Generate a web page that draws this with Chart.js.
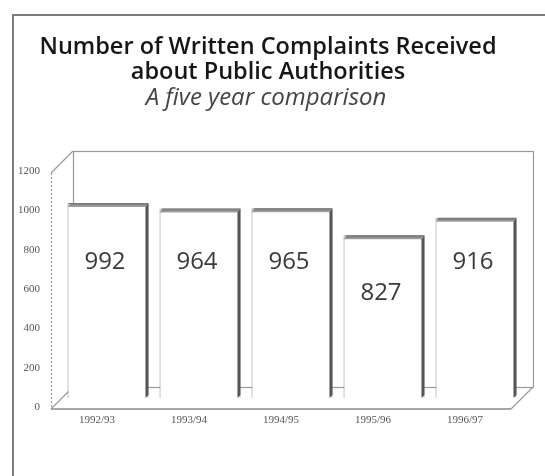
<!DOCTYPE html>
<html>
<head>
<meta charset="utf-8">
<script src="https://cdn.jsdelivr.net/npm/chart.js@4.4.0/dist/chart.umd.min.js"></script>
<style>
  html, body { margin: 0; padding: 0; background: #fff; }
  #wrap { width: 545px; height: 476px; }
</style>
</head>
<body>
<div id="wrap"><canvas id="complaintsChart" width="545" height="476"></canvas></div>
<script>
const years = ['1992/93', '1993/94', '1994/95', '1995/96', '1996/97'];
const complaints = [992, 964, 965, 827, 916];
const yTicks = [0, 200, 400, 600, 800, 1000, 1200];

const titleLines = ['Number of Written Complaints Received', 'about Public Authorities'];
const subtitleText = 'A five year comparison';

// half depth of the fake 3d box, in px
const DEPTH = 11;

const boxPlugin = {
  id: 'box3d',
  beforeDatasetsDraw(chart) {
    const ctx = chart.ctx;
    const area = chart.chartArea;
    const y = chart.scales.y;
    const top = y.getPixelForValue(yTicks[yTicks.length - 1]);
    const base = y.getPixelForValue(0);
    const l = area.left, r = area.right, d = DEPTH;

    ctx.save();
    ctx.strokeStyle = '#9a9a9a';
    ctx.lineWidth = 1.2;

    // back wall
    ctx.strokeRect(l + d + 0.5, top - d + 0.5, r - l, base - top);

    // left wall + floor
    ctx.beginPath();
    ctx.moveTo(l - d, top + d);
    ctx.lineTo(l + d, top - d);
    ctx.moveTo(l - d, base + d);
    ctx.lineTo(l + d, base - d);
    ctx.moveTo(r - d, base + d);
    ctx.lineTo(r + d, base - d);
    ctx.stroke();

    ctx.setLineDash([2, 2]);
    ctx.beginPath();
    ctx.moveTo(l - d + 0.5, top + d);
    ctx.lineTo(l - d + 0.5, base + d);
    ctx.stroke();
    ctx.setLineDash([]);

    ctx.lineWidth = 1.6;
    ctx.strokeStyle = '#8a8a8a';
    ctx.beginPath();
    ctx.moveTo(l - d, base + d);
    ctx.lineTo(r - d, base + d);
    ctx.stroke();
    ctx.restore();
  },
  afterDatasetsDraw(chart) {
    const ctx = chart.ctx;
    const y = chart.scales.y;
    const meta = chart.getDatasetMeta(0);
    const labelY = y.getPixelForValue(690);

    ctx.save();
    meta.data.forEach((bar, i) => {
      const left = bar.x - bar.width / 2;
      const right = bar.x + bar.width / 2;
      const top = bar.y;
      const bottom = bar.base;

      // top face
      const grad = ctx.createLinearGradient(0, top, 0, top + 4);
      grad.addColorStop(0, '#707070');
      grad.addColorStop(1, '#a8a8a8');
      ctx.fillStyle = grad;
      ctx.beginPath();
      ctx.moveTo(left, top + 4);
      ctx.lineTo(left + 3, top);
      ctx.lineTo(right, top);
      ctx.lineTo(right - 3, top + 4);
      ctx.closePath();
      ctx.fill();

      // right side face
      ctx.fillStyle = '#555';
      ctx.beginPath();
      ctx.moveTo(right - 3, top + 4);
      ctx.lineTo(right, top);
      ctx.lineTo(right, bottom - 3);
      ctx.lineTo(right - 3, bottom);
      ctx.closePath();
      ctx.fill();

      // value label
      let ty = labelY;
      if (ty - top < 40) ty = top + 58;
      ctx.fillStyle = '#3a3a3a';
      ctx.font = '24px "Open Sans", sans-serif';
      ctx.textAlign = 'center';
      ctx.textBaseline = 'middle';
      ctx.fillText(String(complaints[i]), bar.x - 3, ty);
    });
    ctx.restore();
  },
  afterDraw(chart) {
    const ctx = chart.ctx;
    ctx.save();
    // outer frame
    ctx.strokeStyle = '#7a7a7a';
    ctx.lineWidth = 2;
    ctx.strokeRect(13, 15, 600, 600);

    ctx.textAlign = 'center';
    ctx.textBaseline = 'middle';
    ctx.fillStyle = '#161616';
    ctx.font = '600 23.5px "Open Sans", sans-serif';
    ctx.fillText(titleLines[0], 268, 47);
    ctx.fillText(titleLines[1], 268, 72);
    ctx.fillStyle = '#444';
    ctx.font = 'italic 24px "Open Sans", sans-serif';
    ctx.fillText(subtitleText, 266, 98);
    ctx.restore();
  }
};

new Chart(document.getElementById('complaintsChart'), {
  type: 'bar',
  data: {
    labels: years,
    datasets: [{
      data: complaints,
      backgroundColor: '#ffffff',
      borderColor: '#8c8c8c',
      borderWidth: 1,
      categoryPercentage: 1,
      barPercentage: 0.88,
    }],
  },
  options: {
    responsive: false,
    animation: false,
    layout: { padding: { top: 162, right: 23, left: 0, bottom: 0 } },
    plugins: {
      legend: { display: false },
      tooltip: { enabled: false },
    },
    scales: {
      x: {
        grid: { display: false, drawTicks: false },
        border: { display: false },
        ticks: {
          color: '#555',
          font: { family: '"Liberation Serif", serif', size: 11 },
          padding: 16,
          labelOffset: -DEPTH,
          maxRotation: 0,
        },
        afterFit(scale) { scale.height = 78; },
      },
      y: {
        min: 0,
        max: 1200,
        afterBuildTicks(scale) { scale.ticks = yTicks.map(v => ({ value: v })); },
        grid: { display: false, drawTicks: false },
        border: { display: false },
        ticks: {
          color: '#555',
          font: { family: '"Liberation Serif", serif', size: 11 },
          padding: 22,
          labelOffset: 9,
          callback: v => String(v),
        },
        afterFit(scale) { scale.width = 62; },
      },
    },
  },
  plugins: [boxPlugin],
});
</script>
</body>
</html>
